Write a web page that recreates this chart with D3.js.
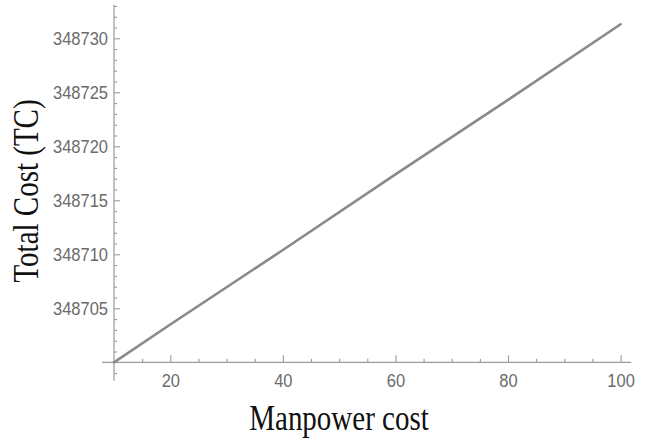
<!DOCTYPE html>
<html><head><meta charset="utf-8">
<script src="https://cdn.jsdelivr.net/npm/d3@7"></script>
<style>
html,body{margin:0;padding:0;background:#fff;}
svg{display:block;}
</style></head>
<body><svg id="c" width="646" height="439"></svg>
<script>
// Data
const manpowerCost = [10, 20, 40, 60, 80, 100];
const totalCost = [348700.0, 348703.5, 348710.4, 348717.4, 348724.3, 348731.3];
const xMajorTicks = [20, 40, 60, 80, 100];
const xMinorTicks = [15, 25, 30, 35, 45, 50, 55, 65, 70, 75, 85, 90, 95];
const yMajorTicks = [348705, 348710, 348715, 348720, 348725, 348730];
const yMinorTicks = [348699,348701,348702,348703,348704,348706,348707,348708,348709,348711,348712,348713,348714,348716,348717,348718,348719,348721,348722,348723,348724,348726,348727,348728,348729,348731,348732,348733];
const xTitle = "Manpower cost";
const yTitle = "Total Cost (TC)";

const svg = d3.select("#c");
const x = d3.scaleLinear().domain([10, 100]).range([114, 620.6]);
const y = d3.scaleLinear().domain([348700, 348730]).range([362.3, 38.3]);

const axisColor = "#9a9a9a";
const labelColor = "#6b6b6b";

// axis lines (extended past origin like the reference)
svg.append("line").attr("x1", x(7.9)).attr("x2", x(101.9))
  .attr("y1", y(348700)).attr("y2", y(348700))
  .attr("stroke", axisColor).attr("stroke-width", 1.2);
svg.append("line").attr("x1", x(10)).attr("x2", x(10))
  .attr("y1", y(348698.3)).attr("y2", y(348733.1))
  .attr("stroke", axisColor).attr("stroke-width", 1.2);

function styleAxis(g) {
  g.select(".domain").remove();
  g.selectAll(".tick line").attr("stroke", axisColor).attr("stroke-width", 1.1);
  g.selectAll(".tick text").attr("fill", labelColor)
    .style("font-family", "'Liberation Sans', Arial, sans-serif")
    .style("font-size", "16.5px");
}

// X axis
svg.append("g").attr("transform", `translate(0,${y(348700)})`)
  .call(d3.axisBottom(x).tickValues(xMinorTicks).tickSize(-3.5).tickFormat(""))
  .call(styleAxis);
const gx = svg.append("g").attr("transform", `translate(0,${y(348700)})`)
  .call(d3.axisBottom(x).tickValues(xMajorTicks).tickSize(-7).tickPadding(10).tickFormat(d3.format("d")))
  .call(styleAxis);
gx.selectAll(".tick text").attr("transform", "scale(1,1.15)");

// Y axis
svg.append("g").attr("transform", `translate(${x(10)},0)`)
  .call(d3.axisLeft(y).tickValues(yMinorTicks).tickSize(-3).tickFormat(""))
  .call(styleAxis);
const gy = svg.append("g").attr("transform", `translate(${x(10)},0)`)
  .call(d3.axisLeft(y).tickValues(yMajorTicks).tickSize(-6).tickPadding(6).tickFormat(d3.format("d")))
  .call(styleAxis);
gy.selectAll(".tick text").attr("transform", "scale(1,1.15)");

// Line
const line = d3.line().x((d, i) => x(manpowerCost[i])).y(d => y(d));
svg.append("path").datum(totalCost)
  .attr("d", line)
  .attr("fill", "none")
  .attr("stroke", "#8a8a8a")
  .attr("stroke-width", 2.6)
  .attr("stroke-linecap", "round");

// Titles
svg.append("text").text(xTitle)
  .attr("transform", "translate(339,430) scale(1,1.2)")
  .attr("text-anchor", "middle")
  .style("font-family", "'Liberation Serif', 'Times New Roman', serif")
  .style("font-size", "29px").attr("fill", "#111");
svg.append("text").text(yTitle)
  .attr("transform", "translate(38,191) rotate(-90) scale(1,1.2)")
  .attr("text-anchor", "middle")
  .style("font-family", "'Liberation Serif', 'Times New Roman', serif")
  .style("font-size", "29px").attr("fill", "#111");
</script>
</body></html>
